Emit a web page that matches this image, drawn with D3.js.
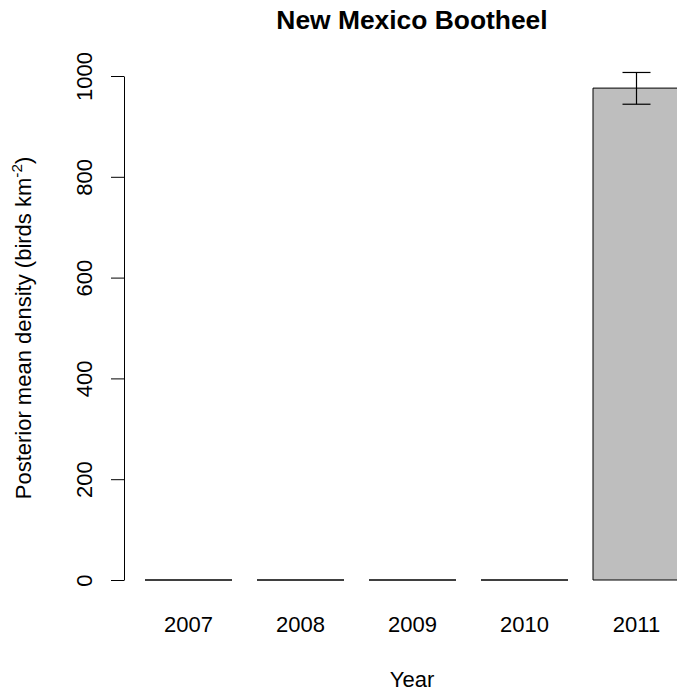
<!DOCTYPE html>
<html>
<head>
<meta charset="utf-8">
<script src="https://cdn.jsdelivr.net/npm/d3@7"></script>
<style>
  html, body { margin: 0; padding: 0; background: #ffffff; }
  svg text { font-family: "Liberation Sans", Arial, Helvetica, sans-serif; fill: #000; }
</style>
</head>
<body>
<script>
// Posterior mean density by survey year
const years = ["2007", "2008", "2009", "2010", "2011"];
const density = [0, 0, 0, 0, 976];
const lower = [null, null, null, null, 944];
const upper = [null, null, null, null, 1007];
const yTicks = [0, 200, 400, 600, 800, 1000];

const W = 677, H = 692;
const FS = 22;          // base text size
const midX = 412;       // horizontal centre of the plotting region

const svg = d3.select("body").append("svg")
  .attr("width", W).attr("height", H);

const x = d3.scaleBand()
  .domain(years)
  .range([145, 680])
  .paddingInner(25 / 112)
  .paddingOuter(0);

const y = d3.scaleLinear().domain([0, 1000]).range([580, 76]);

// bars (zero-height bars show as a single baseline stroke)
svg.append("g").selectAll("path")
  .data(years.map((yr, i) => ({ yr, v: density[i] })))
  .join("path")
  .attr("d", d => {
    const x0 = x(d.yr), x1 = x0 + x.bandwidth();
    const y0 = y(0), y1 = y(d.v);
    return `M${x0},${y0}V${y1}H${x1}V${y0}Z`;
  })
  .attr("fill", "#bebebe")
  .attr("stroke", "#000")
  .attr("stroke-width", 1);

// credible interval whiskers
const eb = years.map((yr, i) => ({ yr, lo: lower[i], hi: upper[i] }))
  .filter(d => d.lo != null);
const ebG = svg.append("g").attr("stroke", "#000").attr("stroke-width", 1.2);
eb.forEach(d => {
  const cx = x(d.yr) + x.bandwidth() / 2;
  ebG.append("line").attr("x1", cx).attr("x2", cx).attr("y1", y(d.lo)).attr("y2", y(d.hi));
  ebG.append("line").attr("x1", cx - 14).attr("x2", cx + 14).attr("y1", y(d.lo)).attr("y2", y(d.lo));
  ebG.append("line").attr("x1", cx - 14).attr("x2", cx + 14).attr("y1", y(d.hi)).attr("y2", y(d.hi));
});

// y axis with rotated tick labels
const yAxis = svg.append("g")
  .attr("transform", "translate(124,0)")
  .call(d3.axisLeft(y).tickValues(yTicks).tickSize(13).tickSizeOuter(0).tickFormat(d3.format("d")));
yAxis.select(".domain").attr("stroke", "#000").attr("stroke-width", 1);
yAxis.selectAll(".tick line").attr("stroke", "#000").attr("stroke-width", 1);
yAxis.selectAll(".tick text")
  .attr("x", 0).attr("y", 0).attr("dy", null)
  .attr("transform", "translate(-32,0) rotate(-90)")
  .attr("text-anchor", "middle")
  .style("font-size", FS + "px")
  .style("font-family", "'Liberation Sans', Arial, sans-serif");

// category labels
svg.append("g").selectAll("text")
  .data(years)
  .join("text")
  .attr("x", d => x(d) + x.bandwidth() / 2)
  .attr("y", 632)
  .attr("text-anchor", "middle")
  .style("font-size", FS + "px")
  .text(d => d);

// title and axis titles
svg.append("text")
  .attr("x", midX).attr("y", 29)
  .attr("text-anchor", "middle")
  .style("font-size", (FS * 1.2) + "px").style("font-weight", "bold")
  .text("New Mexico Bootheel");

svg.append("text")
  .attr("x", midX).attr("y", 687)
  .attr("text-anchor", "middle")
  .style("font-size", FS + "px")
  .text("Year");

const yl = svg.append("text")
  .attr("transform", "translate(31,328) rotate(-90)")
  .attr("text-anchor", "middle")
  .style("font-size", FS + "px");
yl.append("tspan").text("Posterior mean density (birds km");
yl.append("tspan").attr("dy", -9).style("font-size", (FS * 0.7) + "px").text("-2");
yl.append("tspan").attr("dy", 9).text(")");
</script>
</body>
</html>
